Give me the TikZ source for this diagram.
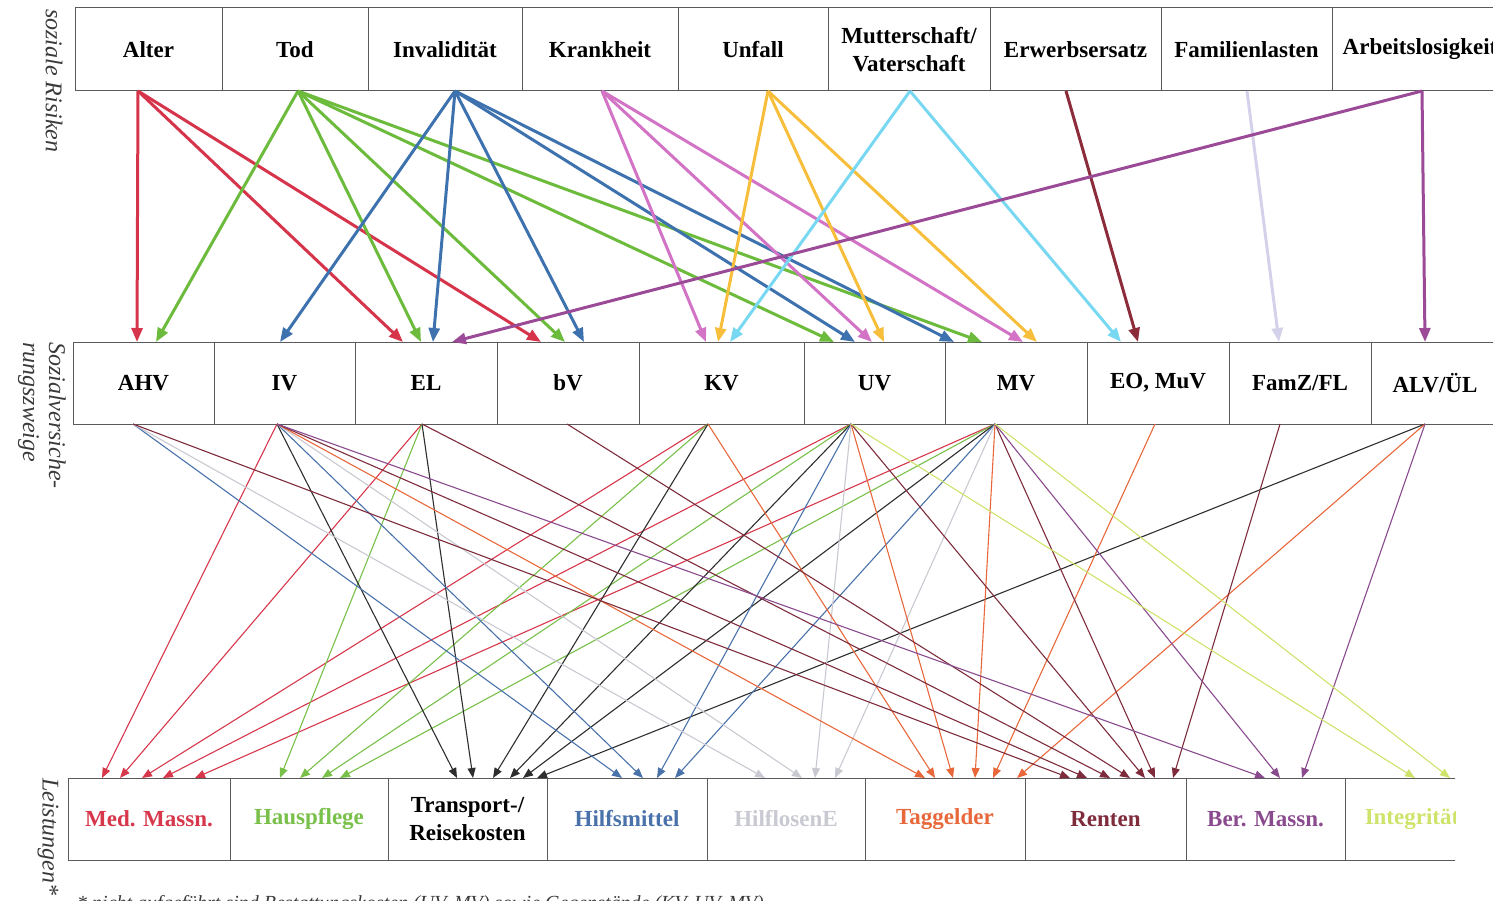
\documentclass[tikz,border=0pt]{standalone}
\usepackage{fontspec}
\setmainfont{Liberation Serif}
\usetikzlibrary{arrows.meta}
\definecolor{boxgray}{HTML}{5A5A5A}
\definecolor{sidegray}{HTML}{3A3A3A}
\definecolor{cAlter}{HTML}{D6344A}
\definecolor{cTod}{HTML}{6CBB3C}
\definecolor{cInval}{HTML}{3D72AE}
\definecolor{cKrank}{HTML}{D273C6}
\definecolor{cUnfall}{HTML}{F7BE3C}
\definecolor{cMutter}{HTML}{78D8F2}
\definecolor{cErwerb}{HTML}{8C2B3A}
\definecolor{cFamil}{HTML}{D4D2EA}
\definecolor{cArbeit}{HTML}{9A4A96}
\definecolor{cMed}{HTML}{D6374B}
\definecolor{cHaus}{HTML}{78C04A}
\definecolor{cTrans}{HTML}{2E2E2E}
\definecolor{cHilfs}{HTML}{4A72AA}
\definecolor{cHilfl}{HTML}{C9C9D2}
\definecolor{cTagg}{HTML}{E8683C}
\definecolor{cRenten}{HTML}{7E2C3C}
\definecolor{cBer}{HTML}{8A4A8E}
\definecolor{cInteg}{HTML}{CDE36A}
\begin{document}
\begin{tikzpicture}[x=1pt,y=-1pt,
  cell/.style={draw=boxgray, line width=1pt, inner sep=0pt, outer sep=0pt,
    align=center, font=\fontsize{23}{28}\selectfont\bfseries},
  toprow/.style={cell, minimum height=83pt},
  midrow/.style={cell, minimum height=82pt},
  botrow/.style={cell, minimum height=82pt},
  toparr/.style={line width=3pt, -{Triangle[length=14pt,width=11pt]}},
  botarr/.style={line width=1.1pt, -{Triangle[length=10pt,width=8pt]}},
  sidelab/.style={font=\fontsize{24}{26}\selectfont\itshape, inner sep=0pt, text=sidegray, align=left}
]
\useasboundingbox (0,0) rectangle (1493,901);
\clip (0,0) rectangle (1493,901);

% top row: soziale Risiken
\node[toprow, minimum width=147] (Alter)  at (148.5,49.5) {Alter};
\node[toprow, minimum width=146] (Tod)    at (295,49.5)   {Tod};
\node[toprow, minimum width=154] (Inval)  at (445,49.5)   {Invalidität};
\node[toprow, minimum width=156] (Krank)  at (600,49.5)   {Krankheit};
\node[toprow, minimum width=150] (Unfall) at (753,49.5)   {Unfall};
\node[toprow, minimum width=162] (Mutter) at (909,49.5)   {Mutterschaft/\\Vaterschaft};
\node[toprow, minimum width=171] (Erwerb) at (1075.5,49.5){Erwerbsersatz};
\node[toprow, minimum width=171] (Famil)  at (1246.5,49.5){Familienlasten};
\node[toprow, minimum width=176] (Arbeit) at (1420,49.5)  {Arbeitslosigkeit};

% middle row: Sozialversicherungszweige
\node[midrow, minimum width=141] (AHV)  at (143.5,383) {AHV};
\node[midrow, minimum width=141] (IV)   at (284.5,383) {IV};
\node[midrow, minimum width=142] (EL)   at (426,383)   {EL};
\node[midrow, minimum width=142] (bV)   at (568,383)   {bV};
\node[midrow, minimum width=165] (KV)   at (721.5,383) {KV};
\node[midrow, minimum width=141] (UV)   at (874.5,383) {UV};
\node[midrow, minimum width=142] (MV)   at (1016,383)  {MV};
\node[midrow, minimum width=142] (EO)   at (1158,383)  {EO, MuV};
\node[midrow, minimum width=142] (FamZ) at (1300,383)  {FamZ/FL};
\node[midrow, minimum width=128] (ALV)  at (1435,383)  {ALV/ÜL};

% bottom row: Leistungen
\begin{scope}
\clip (0,760) rectangle (1455,880);
\node[botrow, minimum width=162, text=cMed]    (Med)    at (149,819)    {Med. Massn.};
\node[botrow, minimum width=158, text=cHaus]   (Haus)   at (309,819)    {Hauspflege};
\node[botrow, minimum width=159, text=black]   (Trans)  at (467.5,819)  {Transport-/\\Reisekosten};
\node[botrow, minimum width=160, text=cHilfs]  (Hilfs)  at (627,819)    {Hilfsmittel};
\node[botrow, minimum width=158, text=cHilfl]  (Hilfl)  at (786,819)    {HilflosenE};
\node[botrow, minimum width=160, text=cTagg]   (Tagg)   at (945,819)    {Taggelder};
\node[botrow, minimum width=161, text=cRenten] (Renten) at (1105.5,819) {Renten};
\node[botrow, minimum width=159, text=cBer]    (Ber)    at (1265.5,819) {Ber. Massn.};
\node[botrow, minimum width=134, text=cInteg]  (Integ)  at (1412,819)   {Integrität};
\end{scope}

% side labels
\node[sidelab, rotate=-90, anchor=west] (lab1) at (54,9) {soziale Risiken};
\node[sidelab, rotate=-90, anchor=north west] (lab2) at (66,342) {Sozialversiche-\\rungszweige};
\node[sidelab, rotate=-90, anchor=west] (lab3) at (48,778) {Leistungen*};
\node[font=\fontsize{20}{23}\selectfont\itshape, inner sep=0pt, anchor=base west, text=sidegray] (foot) at (77,909)
  {* nicht aufgeführt sind Bestattungskosten (UV, MV) sowie Gegenstände (KV, UV, MV)};

% risks -> branches
\foreach \s/\a/\t/\b/\c in {
Alter/-10.5/AHV/-6.5/cAlter, Alter/-10.5/EL/-23/cAlter, Alter/-10.5/bV/-27/cAlter,
Tod/3/AHV/12.5/cTod, Tod/3/EL/-5/cTod, Tod/3/bV/-3/cTod, Tod/3/UV/-40.5/cTod, Tod/3/MV/-34/cTod,
Inval/10/IV/-4.5/cInval, Inval/10/EL/7/cInval, Inval/10/bV/16/cInval, Inval/10/UV/-19.5/cInval, Inval/10/MV/-62/cInval,
Krank/2/KV/-15.5/cKrank, Krank/2/UV/-2.5/cKrank, Krank/2/MV/7/cKrank,
Unfall/15/KV/-3.5/cUnfall, Unfall/15/UV/9.5/cUnfall, Unfall/15/MV/21/cUnfall,
Mutter/1/KV/8.5/cMutter, Mutter/1/EO/-37/cMutter,
Erwerb/-9.5/EO/-20/cErwerb,
Famil/0.5/FamZ/-21/cFamil,
Arbeit/2/ALV/-10/cArbeit, Arbeit/2/EL/26/cArbeit}
{\draw[toparr, color=\c] ([xshift=\a pt]\s.south) -- ([xshift=\b pt]\t.north);}

% branches -> benefits
\foreach \s/\a/\t/\b/\c in {
IV/-7.5/Med/-47/cMed, EL/-4/Med/-29/cMed, KV/-13.5/Med/-7/cMed, UV/-23.5/Med/14/cMed, MV/-21/Med/46/cMed,
EL/-4/Haus/-29/cHaus, KV/-13.5/Haus/-9/cHaus, UV/-23.5/Haus/13/cHaus, MV/-21/Haus/31/cHaus,
IV/-7.5/Trans/-10.5/cTrans, EL/-4/Trans/5.5/cTrans, KV/-13.5/Trans/25.5/cTrans, UV/-23.5/Trans/42.5/cTrans, MV/-21/Trans/55.5/cTrans, ALV/-10/Trans/69.5/cTrans,
AHV/-10.5/Hilfs/-5/cHilfs, IV/-7.5/Hilfs/16/cHilfs, UV/-23.5/Hilfs/30/cHilfs, MV/-21/Hilfs/48/cHilfs,
AHV/-10.5/Hilfl/-21/cHilfl, IV/-7.5/Hilfl/16/cHilfl, UV/-23.5/Hilfl/29/cHilfl, MV/-21/Hilfl/49/cHilfl,
IV/-7.5/Tagg/-20/cTagg, KV/-13.5/Tagg/-10/cTagg, UV/-23.5/Tagg/8/cTagg, MV/-21/Tagg/30/cTagg, EO/-3/Tagg/48/cTagg, ALV/-10/Tagg/72/cTagg,
AHV/-10.5/Renten/-35.5/cRenten, IV/-7.5/Renten/-18.5/cRenten, EL/-4/Renten/4.5/cRenten, bV/-1/Renten/24.5/cRenten, UV/-23.5/Renten/39.5/cRenten, MV/-21/Renten/49.5/cRenten, FamZ/-20/Renten/67.5/cRenten,
IV/-7.5/Ber/-0.5/cBer, MV/-21/Ber/14.5/cBer, ALV/-10/Ber/36.5/cBer,
UV/-23.5/Integ/3/cInteg, MV/-21/Integ/38/cInteg}
{\draw[botarr, color=\c] ([xshift=\a pt]\s.south) -- ([xshift=\b pt]\t.north);}
\end{tikzpicture}
\end{document}
